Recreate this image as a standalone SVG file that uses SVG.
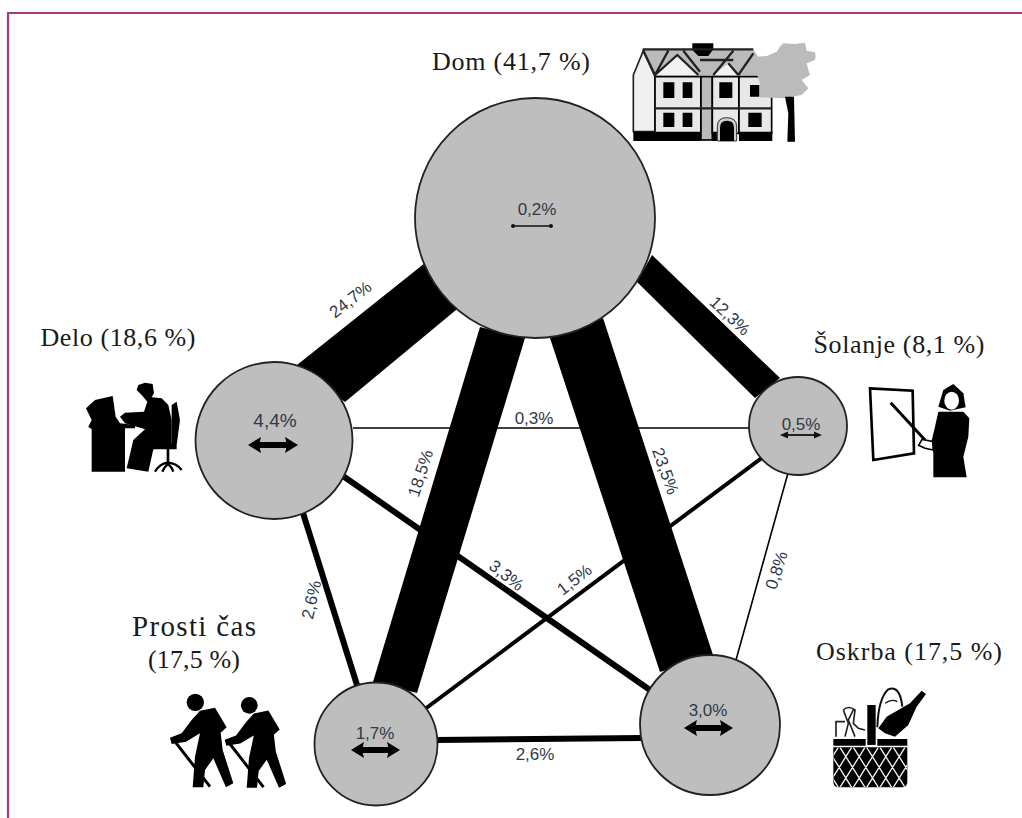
<svg xmlns="http://www.w3.org/2000/svg" xmlns:xlink="http://www.w3.org/1999/xlink" width="1022" height="818" viewBox="0 0 1022 818">
<style>
.t{font-family:"Liberation Serif","DejaVu Serif",serif;font-size:26px;fill:#1a1a1a;text-anchor:middle}
.p{font-family:"Liberation Sans",Arial,sans-serif;font-size:17px;fill:#2f3a48;text-anchor:middle}
.n{fill:#bebebe;stroke:#222;stroke-width:1.8}
.l{stroke:#000;fill:none}
.b{fill:#000}
.da{stroke:#000;stroke-width:6;marker-start:url(#ah);marker-end:url(#ah)}
.ic{filter:url(#soft)}
</style>
<defs>
<filter id="soft" x="-5%" y="-5%" width="110%" height="110%"><feGaussianBlur stdDeviation="1.800"/></filter>
<marker id="ah" markerUnits="userSpaceOnUse" markerWidth="13" markerHeight="18" viewBox="0 0 13 18" refX="2" refY="9" orient="auto-start-reverse"><path d="M0,1 L13,9 L0,17 L2,9Z" fill="#000"/></marker>
<marker id="as" markerUnits="userSpaceOnUse" markerWidth="8" markerHeight="8" viewBox="0 0 8 8" refX="2" refY="4" orient="auto-start-reverse"><path d="M0,0.5 L8,4 L0,7.5Z" fill="#111"/></marker>
<marker id="ad" markerUnits="userSpaceOnUse" markerWidth="4" markerHeight="4" viewBox="0 0 4 4" refX="2" refY="2"><circle cx="2" cy="2" r="2" fill="#111"/></marker>
<clipPath id="bk"><path d="M40,232H262V335Q262,352 245,352H57Q40,352 40,335Z"/></clipPath>
<g id="hiker"><circle cx="136" cy="97" r="26"/><path d="M150,122L195,113L230,172L212,188L218,240L250,340L228,352L190,265L165,300L160,352L128,352L135,260L150,190L108,215L65,222L60,203L95,190L125,150Z"/><path d="M75,215L180,350" stroke="#000" stroke-width="9" fill="none"/></g>
</defs>
<rect width="1022" height="818" fill="#fff"/>
<path d="M8,818V13H1022" fill="none" stroke="#a63c78" stroke-width="2.2"/>
<g id="connectors">
<path class="b" d="M297,365L425,263L462,305L345,402Z"/>
<path class="b" d="M480,327L373,682L417,693L525,338Z"/>
<path class="b" d="M550,338L660,672L713,655L603,318Z"/>
<path class="b" d="M637,282L652,255L780,378L755,398Z"/>
<path class="l" stroke-width="1.600" d="M353,428H749"/>
<path class="l" stroke-width="6" d="M343,476L650,690"/>
<path class="l" stroke-width="4" d="M425,709L763,457"/>
<path class="l" stroke-width="6" d="M303,513L357,685"/>
<path class="l" stroke-width="6" d="M436,740L642,738"/>
<path class="l" stroke-width="1.600" d="M788,473L736,660"/>
<g>
<text class="p" transform="translate(354,304) rotate(-38)">24,7%</text>
<text class="p" transform="translate(726,320) rotate(43)">12,3%</text>
<text class="p" transform="translate(426,475) rotate(-72)">18,5%</text>
<text class="p" transform="translate(660,473) rotate(70)">23,5%</text>
<text class="p" x="534" y="424">0,3%</text>
<text class="p" transform="translate(503,580) rotate(38)">3,3%</text>
<text class="p" transform="translate(578,584) rotate(-38)">1,5%</text>
<text class="p" transform="translate(317,601) rotate(-77)">2,6%</text>
<text class="p" x="535" y="760">2,6%</text>
<text class="p" transform="translate(782,572) rotate(-72)">0,8%</text>
</g>
</g>
<g id="dom">
<circle class="n" cx="535" cy="218" r="120"/>
<text class="p" x="537" y="215">0,2%</text>
<path d="M513,226H551" stroke="#111" stroke-width="1.500" marker-start="url(#ad)" marker-end="url(#ad)"/>
<text class="t" x="511" y="70" textLength="158">Dom (41,7 %)</text>
<g class="ic" transform="translate(620,20) scale(.3333)">
<path d="M68,88H400L440,150V170H105Z" fill="#bbb"/>
<path d="M217,70H280V88L265,108H235L217,90Z"/>
<path d="M40,165L70,92L105,170V335H40Z" fill="#f0f0f0" stroke="#222" stroke-width="5"/>
<rect x="105" y="170" width="138" height="170" fill="#e8e8e8" stroke="#000" stroke-width="5"/>
<rect x="243" y="170" width="34" height="190" fill="#bbb" stroke="#000" stroke-width="5"/>
<rect x="277" y="170" width="80" height="170" fill="#e8e8e8" stroke="#000" stroke-width="5"/>
<rect x="357" y="170" width="98" height="170" fill="#e8e8e8" stroke="#000" stroke-width="5"/>
<path d="M105,165L172,105L235,165Z M280,165L325,130L355,165Z" fill="#f2f2f2"/>
<path d="M70,92L105,165L145,92M105,165L172,105L235,165M190,92L240,155M240,120H340M340,92L280,165M325,130L355,165M355,165L400,100M68,88H400M105,265H455" stroke="#222" stroke-width="7" fill="none"/>
<path d="M130,187h33v47h-33zM188,187h29v47h-29zM298,187h39v47h-39zM390,195h28v35h-28zM130,278h33v43h-33zM188,278h29v43h-29zM385,278h40v43h-40z"/>
<path d="M40,335H243V363H40ZM277,335H292V363H277ZM357,335H457V363H357Z"/>
<path d="M292,363V320Q292,293 320,293Q350,293 350,320V363Z" fill="#ccc" stroke="#333" stroke-width="3"/>
<path d="M300,363V322Q300,302 321,302Q342,302 342,322V363Z"/>
<path d="M410,110L440,108L470,95L480,80L490,70L525,72L555,68L560,92L585,97L587,110L585,120L560,130L565,150L570,165L545,180L565,205L545,225L490,235L420,232L420,190L410,160L432,150L420,130Z" fill="#bbb"/>
<path d="M495,230H522L525,365H502L505,280Z"/>
</g>
</g>
<g id="delo">
<circle class="n" cx="274" cy="440.500" r="78.500"/>
<text class="p" x="275" y="427" style="font-size:19px">4,4%</text>
<path class="da" d="M259,445H287"/>
<text class="t" x="118" y="346" textLength="155">Delo (18,6 %)</text>
<g class="ic" transform="translate(70,360) scale(.3333)">
<path d="M48,145L75,120L128,108L137,170L150,190L195,195V205H165V335H65V208L55,200L65,180Z"/>
<path d="M200,90L205,75L225,68L248,72L252,100L245,112L275,115L295,135L305,180L305,260L250,268L235,335L170,325L190,240L225,208L165,190L150,170L165,158L222,155L232,125L215,105Z"/>
<path d="M305,135L320,125L330,180L320,255L305,265ZM250,250H320V268H250ZM290,268H298V308H290Z"/>
<path d="M255,335Q270,310 294,308Q320,310 335,330M277,335Q285,318 294,312Q305,320 310,335" fill="none" stroke="#000" stroke-width="7"/>
</g>
</g>
<g id="solanje">
<circle class="n" cx="798" cy="426" r="49"/>
<text class="p" x="801" y="430">0,5%</text>
<path d="M786,435H816" stroke="#111" stroke-width="1.800" marker-start="url(#as)" marker-end="url(#as)"/>
<text class="t" x="899" y="353" textLength="171">Šolanje (8,1 %)</text>
<g class="ic" transform="translate(850,370) scale(.3333)">
<path d="M60,55L188,62L192,250L70,270Z" fill="#fff" stroke="#000" stroke-width="8"/>
<path d="M122,98L225,210" stroke="#000" stroke-width="9"/>
<path d="M265,110L280,60L310,42L340,70L347,112L320,118L300,122Z"/>
<path d="M265,125L340,125L358,145L355,200L340,260L350,322H250V250L245,212L255,170Z"/>
<ellipse cx="305" cy="92" rx="22" ry="27" fill="#fff"/>
<path d="M206,226L216,208L248,214L250,240L225,235Z" fill="#fff" stroke="#000" stroke-width="5"/>
</g>
</g>
<g id="prosti">
<circle class="n" cx="376" cy="744" r="61.500"/>
<text class="p" x="375" y="739">1,7%</text>
<path class="da" d="M362,750H389"/>
<text class="t" x="194" y="636" textLength="124" style="font-size:29px">Prosti čas</text>
<text class="t" x="194" y="668" textLength="92">(17,5 %)</text>
<g class="ic" transform="translate(150,670) scale(.3333)">
<use xlink:href="#hiker" href="#hiker"/>
<use xlink:href="#hiker" href="#hiker" transform="translate(166,12) scale(.97)"/>
</g>
</g>
<g id="oskrba">
<circle class="n" cx="710" cy="725" r="70"/>
<text class="p" x="708" y="716">3,0%</text>
<path class="da" d="M695,728H722"/>
<text class="t" x="909" y="660" textLength="186">Oskrba (17,5 %)</text>
<g class="ic" transform="translate(820,670) scale(.3333)">
<path d="M172,172Q175,85 205,58Q240,45 247,110" fill="#fff" stroke="#111" stroke-width="6"/>
<path d="M195,100Q215,85 232,95" fill="none" stroke="#111" stroke-width="4"/>
<path d="M175,175L200,140L270,100L305,62L318,72L290,110L265,165L225,200L195,190Z"/>
<path d="M48,200V155H75M70,120Q85,105 105,120L100,160L115,175L135,180M70,120L85,160L75,200M100,120L85,150L105,200" fill="none" stroke="#222" stroke-width="5"/>
<path d="M40,207H137V227H40ZM172,207H262V227H172ZM142,105H167V225H142Z"/>
<path d="M40,232H262V335Q262,352 245,352H57Q40,352 40,335Z"/>
<g clip-path="url(#bk)"><path d="M-60,232l75,120M-20,232l75,120M20,232l75,120M60,232l75,120M100,232l75,120M140,232l75,120M180,232l75,120M220,232l75,120M-60,352l75,-120M-20,352l75,-120M20,352l75,-120M60,352l75,-120M100,352l75,-120M140,352l75,-120M180,352l75,-120M220,352l75,-120" fill="none" stroke="#f2f2f2" stroke-width="4"/></g>
</g>
</g>
</svg>
